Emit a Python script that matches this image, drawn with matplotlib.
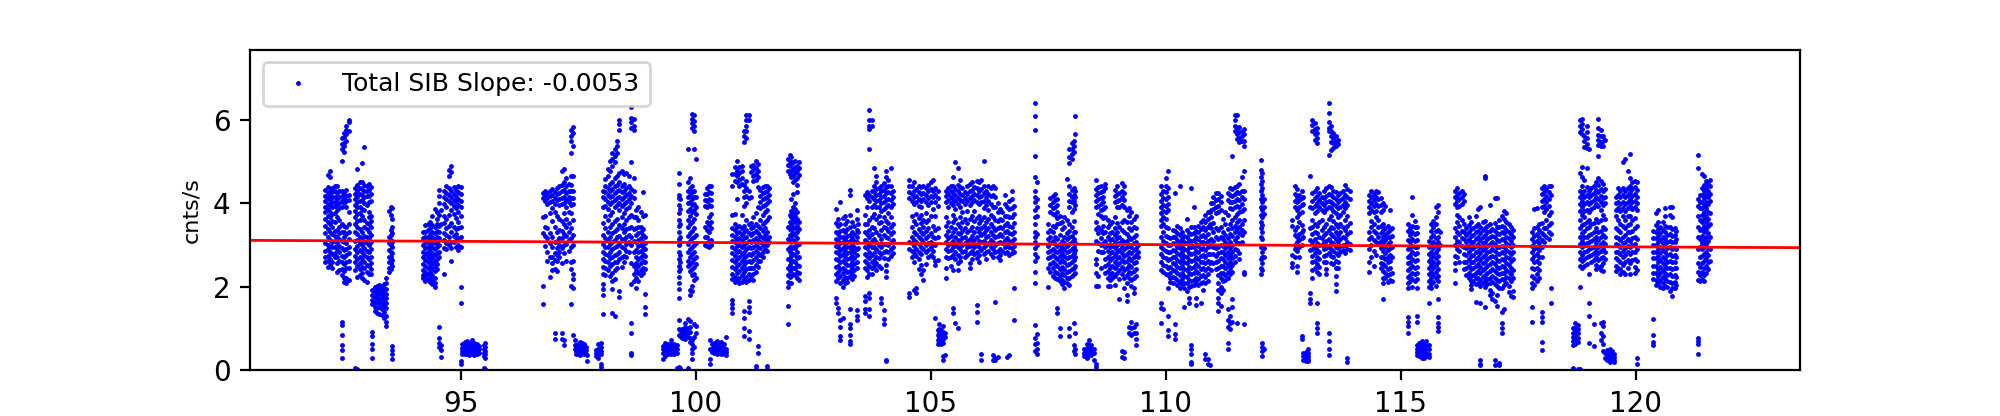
from matplotlib import pyplot as plt

# fitted line
line_x = [90.52, 123.5]
line_y = [3.11, 2.935]

# points, one list of y values per x column
a_x = [92.12, 92.17, 92.22, 92.27, 92.32, 92.37, 92.42, 92.47, 92.52, 92.57, 92.62]
a_y = [
    [4.32, 4.18, 4.05, 3.92, 3.78, 3.62, 3.45, 3.28, 3.05, 2.85, 2.72, 2.58],
    [4.68, 4.38, 4.24, 4.12, 3.98, 3.86, 3.7, 3.55, 3.38, 3.2, 3.0, 2.9, 2.74, 2.62, 2.48],
    [4.78, 4.62, 4.3, 4.2, 4.08, 3.95, 3.8, 3.66, 3.5, 3.3, 3.12, 2.98, 2.82, 2.66, 2.52],
    [4.36, 4.26, 4.14, 4.02, 3.9, 3.74, 3.58, 3.42, 3.26, 3.08, 2.94, 2.78, 2.6, 2.44],
    [4.42, 4.3, 4.16, 4.04, 3.94, 3.76, 3.56, 3.34, 3.22, 3.1, 2.96, 2.8, 2.7],
    [4.4, 4.24, 4.1, 3.98, 3.84, 3.68, 3.36, 3.2, 3.04, 2.9, 2.72, 2.56, 2.36],
    [4.28, 4.14, 4.0, 3.88, 3.6, 3.44, 3.28, 3.14, 2.98, 2.84, 2.62, 2.4],
    [5.55, 5.42, 5.3, 5.0, 4.3, 4.18, 4.06, 3.92, 3.5, 3.3, 3.1, 2.92, 2.74, 2.58, 2.42, 2.28, 1.15, 1.08, 0.85, 0.6, 0.48, 0.3],
    [5.68, 5.58, 5.45, 5.36, 5.22, 4.25, 4.12, 4.0, 3.46, 3.32, 3.2, 3.06, 2.88, 2.72, 2.55, 2.38, 2.22, 2.12],
    [5.84, 5.76, 5.65, 5.5, 4.32, 4.18, 4.06, 3.9, 3.42, 3.26, 3.04, 2.9, 2.76, 2.6, 2.44, 2.2, 2.08],
    [6.0, 5.94, 5.72, 4.2, 4.08, 3.8, 3.5, 3.3, 3.14, 2.96, 2.8, 2.62, 2.45, 2.15],
]
b_x = [92.75, 92.8, 92.85, 92.9, 92.95, 93.0, 93.05, 93.1]
b_y = [
    [4.36, 4.22, 4.1, 3.96, 3.82, 3.68, 3.5, 3.3, 3.1, 2.9, 2.74, 2.58, 2.4, 0.05],
    [4.82, 4.44, 4.3, 4.16, 4.02, 3.9, 3.74, 3.58, 3.44, 3.26, 3.12, 2.98, 2.82, 2.66, 2.5, 2.24, 0.04],
    [4.5, 4.36, 4.22, 4.06, 3.92, 3.76, 3.6, 3.38, 3.18, 3.04, 2.88, 2.72, 2.56, 2.42, 2.28],
    [4.96, 4.5, 4.34, 4.2, 4.08, 3.86, 3.7, 3.3, 3.14, 3.0, 2.82, 2.66, 2.48, 2.32, 2.2],
    [5.35, 4.44, 4.28, 4.14, 4.0, 3.84, 3.6, 3.42, 3.22, 3.08, 2.92, 2.76, 2.6, 2.44, 2.16],
    [4.42, 4.3, 4.18, 3.96, 3.52, 3.38, 3.2, 3.04, 2.86, 2.7, 2.52, 2.36, 2.12],
    [4.46, 4.32, 4.18, 4.04, 3.8, 3.66, 3.5, 3.3, 3.16, 3.0, 2.84, 2.66, 2.5, 2.3],
    [4.38, 4.22, 4.06, 3.7, 3.58, 3.42, 3.24, 3.08, 2.9, 2.72, 2.56, 2.42, 2.3],
]
c_x = [93.12, 93.17, 93.22, 93.27, 93.32, 93.37, 93.42, 93.47, 93.52, 93.55]
c_y = [
    [1.92, 1.8, 1.68, 1.58, 0.92, 0.82, 0.62, 0.52, 0.3],
    [2.0, 1.88, 1.76, 1.64, 1.52, 1.42],
    [2.02, 1.92, 1.82, 1.72, 1.62, 1.5, 1.38],
    [2.04, 1.94, 1.84, 1.74, 1.64, 1.52, 1.34],
    [2.02, 1.9, 1.8, 1.7, 1.58, 1.46, 1.32],
    [2.06, 1.96, 1.86, 1.76, 1.66, 1.54, 1.4, 1.26],
    [2.2, 2.08, 1.94, 1.82, 1.72, 1.6, 1.48, 1.3, 1.16, 1.06],
    [3.82, 3.2, 3.04, 2.88, 2.72, 2.58, 2.44, 2.36],
    [3.92, 3.72, 3.36, 3.24, 3.12, 3.0, 2.84, 2.7, 2.56, 2.42],
    [3.88, 3.62, 3.42, 3.28, 3.08, 2.94, 2.8, 2.64, 2.5, 0.58, 0.48, 0.38, 0.27],
]
d_x = [94.2, 94.25, 94.3, 94.35, 94.4, 94.45, 94.5, 94.55, 94.58]
d_y = [
    [3.3, 3.16, 3.0, 2.84, 2.7, 2.54, 2.4, 2.28, 2.2],
    [3.48, 3.32, 3.18, 3.04, 2.92, 2.78, 2.64, 2.5, 2.36, 2.26, 2.14],
    [3.5, 3.36, 3.2, 3.1, 2.96, 2.84, 2.7, 2.58, 2.44, 2.3, 2.18],
    [3.56, 3.4, 3.26, 3.14, 3.02, 2.9, 2.76, 2.62, 2.5, 2.36, 2.22, 2.12],
    [3.7, 3.48, 3.32, 3.18, 3.06, 2.94, 2.8, 2.68, 2.56, 2.42, 2.28, 2.16, 2.06],
    [3.86, 3.44, 3.28, 3.14, 3.04, 2.9, 2.76, 2.62, 2.5, 2.38, 2.22, 2.08, 2.0],
    [3.78, 3.62, 3.5, 3.34, 3.2, 3.08, 2.94, 2.8, 2.66, 2.54, 2.42],
    [4.32, 4.18, 4.0, 3.72, 3.46, 3.3, 3.16, 3.0, 2.84, 2.7, 1.04, 0.78, 0.66, 0.56],
    [3.84, 3.5, 0.6, 0.48, 0.32],
]
e_x = [94.65, 94.7, 94.75, 94.8, 94.85, 94.9, 94.95, 95.0]
e_y = [
    [4.3, 4.16, 3.98, 3.7, 3.52, 3.28, 3.12, 2.92, 2.3],
    [4.4, 4.24, 4.1, 3.9, 3.62, 3.4, 3.24, 3.04, 2.9],
    [4.8, 4.66, 4.36, 4.2, 4.06, 3.72, 3.46, 3.18, 3.0],
    [4.88, 4.74, 4.28, 4.14, 4.0, 3.84, 3.52, 3.3, 3.08, 2.92, 2.62],
    [4.38, 4.22, 4.08, 3.94, 3.74, 3.44, 3.22, 3.06],
    [4.32, 4.18, 4.04, 3.88, 3.64, 3.38, 3.26, 3.12, 2.96],
    [4.42, 4.26, 4.1, 3.96, 3.78, 3.56, 3.4, 3.16, 3.0, 2.88],
    [4.38, 4.22, 4.06, 3.92, 3.7, 3.42, 3.2, 2.94, 2.0, 1.62, 0.22, 0.14],
]
e_low_x = [95.04, 95.09, 95.14, 95.19, 95.24, 95.29, 95.34, 95.39, 95.5, 95.53]
e_low_y = [
    [0.62, 0.54, 0.46, 0.4],
    [0.68, 0.6, 0.52, 0.44, 0.38],
    [0.7, 0.62, 0.54, 0.46, 0.38],
    [0.66, 0.58, 0.5, 0.42, 0.36],
    [0.72, 0.64, 0.56, 0.48, 0.4],
    [0.66, 0.58, 0.5, 0.42, 0.36],
    [0.62, 0.54, 0.46, 0.38],
    [0.58, 0.5, 0.42],
    [0.6, 0.5, 0.42, 0.34, 0.06],
    [0.65, 0.55, 0.46, 0.38, 0.3, 0.04],
]
f_x = [96.75, 96.8, 96.85, 96.9, 96.95, 97.0, 97.05, 97.1, 97.15, 97.2, 97.25, 97.3, 97.35, 97.4, 97.44]
f_y = [
    [4.24, 4.12, 3.66, 3.28, 2.02, 1.58],
    [4.3, 4.18, 4.06, 3.7, 3.44, 3.22, 2.98],
    [4.24, 4.12, 3.98, 3.4, 3.16, 2.84, 2.62],
    [4.3, 4.18, 4.02, 3.76, 3.28, 3.04, 2.7, 2.24],
    [4.34, 4.2, 4.06, 3.88, 3.58, 3.18, 2.96, 2.72, 2.56, 2.4],
    [4.26, 4.12, 3.98, 3.8, 3.44, 3.06, 2.8, 2.64, 2.42, 0.88, 0.75],
    [4.36, 4.22, 4.08, 3.7, 3.3, 3.1, 2.92, 2.76, 2.62, 2.38],
    [4.4, 4.24, 4.1, 3.96, 3.62, 3.36, 3.16, 3.0, 2.84, 2.7],
    [4.76, 4.44, 4.28, 4.12, 3.98, 3.58, 3.34, 3.16, 2.92, 2.56, 0.88, 0.75],
    [4.82, 4.5, 4.32, 4.14, 4.0, 3.76, 3.5, 3.26, 3.0, 2.8, 0.72, 0.6],
    [4.6, 4.4, 4.24, 4.08, 3.9, 3.62, 3.42, 3.22, 3.02, 2.62],
    [4.46, 4.3, 4.16, 4.02, 3.8, 3.52, 3.3, 3.12, 2.86],
    [5.76, 5.62, 5.5, 5.2, 4.66, 4.44, 4.28, 4.12, 3.96, 3.76, 3.4, 3.16, 2.96, 2.6, 2.42, 2.02, 1.58],
    [5.82, 5.68, 5.36, 4.64, 4.28, 4.12, 3.98, 3.6, 3.24, 3.0, 2.62, 2.3, 2.18, 1.98, 0.85],
    [0.72, 0.6, 0.5],
]
f_low_x = [97.46, 97.5, 97.54, 97.58, 97.62, 97.66, 97.7, 97.88, 97.93, 97.98]
f_low_y = [
    [0.55, 0.46, 0.38],
    [0.62, 0.54, 0.46, 0.38],
    [0.68, 0.6, 0.52, 0.44, 0.36],
    [0.66, 0.58, 0.5, 0.42],
    [0.62, 0.54, 0.46, 0.38],
    [0.56, 0.48, 0.4],
    [0.36, 0.22],
    [0.48, 0.42, 0.34],
    [0.62, 0.52, 0.44, 0.36, 0.3],
    [0.66, 0.56, 0.46, 0.38, 0.14, 0.08],
]
g_x = [98.03, 98.08, 98.13, 98.18, 98.23, 98.28, 98.33, 98.38, 98.43, 98.48, 98.53, 98.58, 98.63, 98.68, 98.73, 98.78, 98.83, 98.88, 98.92]
g_y = [
    [4.3, 4.14, 3.9, 3.52, 3.24, 3.02, 2.84, 2.66, 2.48, 2.3, 2.06, 1.94, 1.8, 1.34],
    [4.58, 4.42, 4.26, 4.1, 3.94, 3.7, 3.4, 3.16, 2.96, 2.78, 2.62, 2.44, 2.28],
    [4.82, 4.64, 4.36, 4.2, 4.04, 3.86, 3.6, 3.3, 3.12, 2.94, 2.76, 2.6, 2.4],
    [5.0, 4.76, 4.46, 4.3, 4.14, 3.98, 3.72, 3.44, 3.2, 3.02, 2.84, 2.68, 2.5, 2.26],
    [5.2, 5.06, 4.9, 4.5, 4.34, 4.18, 4.02, 3.8, 3.5, 3.28, 3.08, 2.9, 2.72, 2.54, 2.34, 2.14, 1.94, 1.36],
    [5.3, 5.14, 4.98, 4.6, 4.4, 4.24, 4.08, 3.92, 3.58, 3.34, 3.12, 2.94, 2.76, 2.58, 2.4, 2.18, 1.3],
    [5.48, 5.36, 5.2, 4.66, 4.44, 4.28, 4.12, 3.96, 3.62, 3.38, 3.18, 2.98, 2.78, 2.6, 2.44],
    [6.0, 5.9, 5.76, 4.72, 4.5, 4.32, 4.16, 4.0, 3.84, 3.48, 3.22, 3.02, 2.84, 2.66, 1.9, 1.76],
    [4.76, 4.42, 4.26, 4.1, 3.94, 3.66, 3.4, 3.14, 2.96, 2.7, 2.48],
    [4.7, 4.46, 4.3, 4.14, 3.98, 3.76, 3.5, 3.3, 3.12, 2.92, 2.74, 2.58],
    [4.72, 4.36, 4.2, 4.04, 3.86, 3.6, 3.38, 3.2, 3.02, 2.86, 2.7],
    [4.66, 4.42, 4.24, 4.1, 3.92, 3.66, 3.4, 3.24, 3.06, 2.84],
    [6.3, 6.05, 5.95, 5.8, 4.98, 4.34, 4.18, 4.0, 3.72, 3.44, 3.2, 3.0, 2.56, 2.06, 1.14, 0.9, 0.42, 0.36],
    [6.02, 5.86, 5.76, 4.6, 4.3, 4.12, 3.66, 3.38, 3.1, 2.82, 2.5, 2.3, 2.14],
    [3.84, 3.66, 3.4, 3.24, 3.06, 2.88, 2.72, 2.56, 2.4, 2.2, 1.96],
    [3.9, 3.6, 3.42, 3.28, 3.12, 2.98, 2.82, 2.66, 2.5, 2.34, 2.14],
    [3.8, 3.44, 3.3, 3.16, 3.0, 2.86, 2.7, 2.56, 2.4, 2.28],
    [4.26, 3.7, 3.38, 3.24, 3.08, 2.94, 2.78, 2.62, 2.46, 2.32],
    [3.72, 3.2, 3.04, 2.9, 2.74, 2.58, 2.42, 1.82, 1.52, 1.35],
]
h_low_x = [99.3, 99.36, 99.42, 99.48, 99.54, 99.6, 99.64, 99.66, 99.72, 99.78, 99.84, 99.88, 99.92, 99.97, 100.0]
h_low_y = [
    [0.58, 0.5, 0.42, 0.28],
    [0.66, 0.58, 0.5, 0.42, 0.34],
    [0.62, 0.54, 0.46, 0.38],
    [0.72, 0.64, 0.56, 0.48, 0.4],
    [0.62, 0.54, 0.46, 0.38],
    [0.6, 0.5, 0.42, 0.06],
    [4.72, 4.45, 4.2, 4.12, 3.95, 3.76, 3.6, 3.46, 3.3, 3.14, 3.0, 2.84, 2.66, 2.5, 2.38, 2.24, 2.08, 1.94, 1.72, 1.2, 0.98, 0.85, 0.08],
    [4.1, 3.86, 3.5, 3.2, 3.06, 2.76, 2.58, 2.42, 0.96, 0.82, 0.05],
    [0.98, 0.88, 0.78],
    [1.14, 1.04, 0.94, 0.84, 0.74],
    [1.22, 1.0, 0.9, 0.8, 0.06],
    [1.18, 1.04, 0.92, 0.78, 0.68],
    [0.72, 0.62, 0.5, 0.42, 0.28],
    [5.3, 1.1, 0.8, 0.55],
    [1.06, 0.9],
]
i_x = [99.84, 99.88, 99.92, 99.96, 100.0, 100.2, 100.24, 100.28, 100.32]
i_y = [
    [5.3, 4.5, 4.3, 4.16, 4.0, 3.82, 3.6, 3.44, 3.22, 3.02, 2.84, 2.62, 2.5],
    [4.6, 4.36, 4.2, 4.04, 3.86, 3.7, 3.5, 3.28, 3.1, 2.9, 2.7, 2.54, 2.38, 1.92, 1.8],
    [6.14, 6.02, 5.92, 5.8, 4.42, 4.26, 4.1, 3.96, 3.78, 3.54, 3.34, 3.16, 2.96, 2.78, 2.6, 2.42, 2.28, 2.02, 1.9],
    [6.1, 5.96, 5.84, 5.72, 4.3, 4.14, 3.98, 3.84, 3.62, 3.4, 3.2, 3.0, 2.82, 2.66, 2.48, 2.3, 2.16],
    [5.07, 4.14, 3.92, 3.74, 3.24, 3.04, 2.72, 2.54, 2.2],
    [4.22, 4.08, 3.94, 3.42, 3.2, 3.0],
    [4.36, 4.22, 4.06, 3.92, 3.56, 3.36, 3.18, 2.98],
    [4.4, 4.26, 4.1, 3.96, 3.66, 3.48, 3.3, 3.1, 2.96],
    [4.42, 4.24, 4.08, 3.94, 3.74, 3.54, 3.4, 3.12, 3.0],
]
i_low_x = [100.3, 100.35, 100.4, 100.45, 100.5, 100.55, 100.6, 100.65]
i_low_y = [
    [0.72, 0.5, 0.26, 0.16],
    [0.62, 0.52, 0.44],
    [0.66, 0.58, 0.5, 0.42],
    [0.7, 0.62, 0.54, 0.46, 0.38],
    [0.66, 0.58, 0.5, 0.42],
    [0.68, 0.6, 0.52, 0.44, 0.38],
    [0.62, 0.54, 0.46, 0.38],
    [0.8, 0.52, 0.44, 0.36],
]
j_x = [100.78, 100.83, 100.88, 100.93, 100.98, 101.03, 101.08, 101.13, 101.18, 101.23, 101.28, 101.33, 101.38, 101.43, 101.48, 101.53, 101.57]
j_y = [
    [4.7, 4.4, 3.72, 3.4, 3.24, 3.1, 2.96, 2.8, 2.64, 2.48, 2.3, 2.18, 1.68, 1.58, 1.48, 1.36],
    [4.86, 4.7, 4.54, 3.74, 3.5, 3.36, 3.2, 3.06, 2.9, 2.74, 2.58, 2.42, 2.24, 2.12],
    [5.0, 4.78, 4.64, 4.5, 4.1, 3.42, 3.28, 3.12, 2.98, 2.82, 2.66, 2.5, 2.34, 2.16],
    [4.86, 4.72, 4.56, 4.42, 3.46, 3.32, 3.16, 3.0, 2.86, 2.7, 2.54, 2.38, 2.2, 2.08],
    [4.9, 4.76, 4.6, 4.46, 3.72, 3.4, 3.24, 3.1, 2.94, 2.78, 2.62, 2.46, 2.28, 2.12],
    [5.72, 5.6, 5.46, 4.44, 4.3, 4.14, 3.94, 3.46, 3.3, 3.16, 3.0, 2.84, 2.68, 2.52, 2.36, 2.18, 1.42, 1.26, 1.02, 0.82],
    [6.12, 6.0, 5.86, 5.72, 5.56, 4.52, 4.36, 4.18, 4.0, 3.6, 3.36, 3.2, 3.04, 2.9, 2.74, 2.58, 2.42, 2.24, 2.12],
    [6.1, 6.0, 4.3, 4.12, 3.5, 3.28, 3.1, 2.94, 2.78, 2.62, 2.46, 2.3, 2.16, 1.66, 1.52, 1.4, 0.95, 0.74],
    [4.88, 4.74, 4.16, 3.52, 3.4, 3.24, 3.08, 2.92, 2.76, 2.6, 2.44, 2.26],
    [4.92, 4.8, 4.66, 4.54, 3.66, 3.44, 3.28, 3.12, 2.96, 2.8, 2.64, 2.46, 2.3, 2.16],
    [5.0, 4.84, 4.7, 4.56, 3.76, 3.5, 3.34, 3.16, 3.0, 2.86, 2.7, 2.52, 2.36, 0.1, 0.04],
    [4.94, 4.78, 4.62, 4.38, 3.9, 3.46, 3.28, 3.12, 2.96, 2.8, 2.62, 2.48, 0.58, 0.42],
    [4.32, 4.18, 4.02, 3.88, 3.6, 3.4, 3.22, 3.08, 2.92, 2.76, 2.62],
    [4.38, 4.24, 4.1, 3.94, 3.72, 3.5, 3.34, 3.16, 3.0, 2.84, 2.7],
    [4.4, 4.26, 4.12, 3.96, 3.78, 3.56, 3.4, 3.24, 3.08, 2.9],
    [4.42, 4.28, 4.14, 4.0, 3.84, 3.6, 3.3, 3.14, 3.0, 2.86, 0.1, 0.04],
    [4.36, 4.2, 4.06, 3.66, 3.2, 3.06],
]
k_x = [101.96, 102.0, 102.04, 102.08, 102.12, 102.16, 102.2]
k_y = [
    [5.06, 4.92, 4.78, 3.42, 3.14, 2.9, 2.66, 2.44, 2.28, 2.12, 2.0, 1.55, 1.1],
    [5.16, 5.02, 4.88, 4.7, 3.72, 3.54, 3.38, 3.24, 3.1, 2.96, 2.82, 2.66, 2.52, 2.38, 2.24, 2.08],
    [5.1, 4.94, 4.78, 4.62, 4.1, 3.82, 3.66, 3.5, 3.36, 3.22, 3.06, 2.9, 2.74, 2.58, 2.42, 2.26, 2.1],
    [4.98, 4.82, 4.66, 4.5, 4.22, 3.92, 3.76, 3.6, 3.44, 3.28, 3.12, 2.96, 2.78, 2.62, 2.46, 2.3],
    [5.02, 4.86, 4.72, 4.56, 4.0, 3.86, 3.7, 3.54, 3.4, 3.24, 3.08, 2.92, 2.76, 2.6, 2.44, 2.28],
    [4.9, 4.76, 4.6, 4.44, 4.26, 3.8, 3.62, 3.46, 3.3, 3.16, 3.0, 2.84, 2.68, 2.52, 2.36, 2.2],
    [4.98, 4.84, 4.68, 3.56, 3.38, 3.02, 2.72, 2.5, 2.32, 2.16],
]
m_x = [102.98, 103.03, 103.08, 103.13, 103.18, 103.23, 103.28, 103.33, 103.38, 103.43, 103.46]
m_y = [
    [3.86, 3.52, 3.3, 3.14, 2.98, 2.82, 2.66, 2.48, 2.3, 2.14, 1.72, 1.6],
    [3.62, 3.46, 3.26, 3.1, 2.96, 2.8, 2.64, 2.5, 2.36, 2.2, 1.5, 1.38],
    [4.02, 3.5, 3.34, 3.18, 3.04, 2.88, 2.74, 2.58, 2.42, 2.26, 2.1, 1.2, 1.04, 0.82, 0.72],
    [3.64, 3.36, 3.2, 3.06, 2.92, 2.78, 2.62, 2.46, 2.32, 2.16, 2.0, 1.26],
    [3.7, 3.5, 3.3, 3.14, 3.0, 2.86, 2.72, 2.56, 2.4, 2.24, 2.08],
    [3.58, 3.38, 3.22, 3.08, 2.94, 2.8, 2.66, 2.52, 2.36, 2.22, 2.12],
    [4.32, 4.2, 3.72, 3.42, 3.24, 3.1, 2.96, 2.82, 2.68, 2.52, 2.38, 2.26, 1.46, 1.1, 1.0, 0.85, 0.7, 0.62],
    [3.56, 3.3, 3.16, 3.02, 2.88, 2.74, 2.6, 2.44, 2.3, 2.18],
    [3.46, 3.26, 3.1, 2.96, 2.82, 2.68, 2.54, 2.4, 2.26],
    [3.84, 3.62, 3.36, 3.2, 3.06, 2.9, 2.76, 2.6, 2.44, 1.44, 1.3, 1.2],
    [3.5, 3.3, 2.92],
]
n_x = [103.6, 103.65, 103.7, 103.75, 103.8, 103.85, 103.9, 103.95, 104.0, 104.05, 104.1, 104.15, 104.2]
n_y = [
    [4.2, 3.72, 3.5, 3.3, 3.12, 2.96, 2.78, 2.62, 2.44, 1.78, 1.66, 1.46, 1.36],
    [4.26, 4.12, 3.9, 3.5, 3.26, 3.08, 2.92, 2.74, 2.56, 2.4, 2.24],
    [6.24, 5.98, 5.84, 5.78, 5.3, 4.2, 4.06, 3.6, 3.36, 3.18, 3.0, 2.84, 2.68, 2.5, 2.3, 1.86, 1.72, 1.46, 1.3],
    [6.0, 5.86, 4.3, 4.14, 3.9, 3.66, 3.44, 3.26, 3.1, 2.94, 2.76, 2.58, 2.44, 2.3],
    [4.84, 4.4, 4.26, 4.1, 3.96, 3.74, 3.4, 3.14, 2.96, 2.8, 2.64, 2.5],
    [4.66, 4.5, 4.34, 4.2, 4.06, 3.9, 3.62, 3.3, 3.08, 2.9, 2.72, 2.56, 2.4],
    [4.36, 4.22, 4.08, 3.92, 3.7, 3.52, 3.24, 3.0, 2.84, 2.68, 2.5],
    [4.42, 4.28, 4.14, 4.0, 3.82, 3.56, 3.36, 3.14, 2.94, 2.78, 2.44, 1.74, 1.62],
    [4.48, 4.32, 4.18, 4.04, 3.86, 3.68, 3.44, 3.24, 3.02, 2.84, 2.68, 1.44, 1.22, 1.1],
    [4.76, 4.62, 4.38, 4.24, 4.08, 3.92, 3.58, 3.4, 3.2, 3.02, 2.86, 2.52, 2.38, 2.24, 0.24, 0.22],
    [4.56, 4.4, 4.26, 4.1, 3.96, 3.76, 3.52, 3.34, 3.16, 3.0, 2.82, 2.66],
    [4.84, 4.4, 4.24, 4.08, 3.92, 3.68, 3.44, 3.26, 3.08, 2.9, 2.74],
    [4.3, 4.14, 3.98, 3.5, 3.3, 3.12, 2.94, 2.8],
]
o_x = [104.55, 104.6, 104.65, 104.7, 104.75, 104.8, 104.85, 104.9, 104.95, 105.0, 105.05, 105.1, 105.15]
o_y = [
    [4.56, 4.4, 4.26, 4.12, 3.06, 2.9, 1.85, 1.75],
    [4.4, 4.22, 4.06, 3.7, 3.42, 3.2, 3.04, 2.86, 2.7],
    [4.5, 4.3, 4.14, 3.98, 3.58, 3.32, 3.12, 2.98, 2.8, 2.6, 1.92],
    [4.34, 4.18, 4.02, 3.74, 3.5, 3.26, 3.08, 2.9, 2.74, 1.98, 1.86],
    [4.42, 4.26, 4.1, 3.94, 3.64, 3.38, 3.18, 3.02, 2.84, 2.66, 2.42],
    [4.38, 4.22, 4.06, 3.9, 3.72, 3.52, 3.3, 3.14, 2.96, 2.78, 2.52, 2.3],
    [4.4, 4.24, 4.1, 3.6, 3.42, 3.26, 3.06, 2.9, 2.4, 2.16],
    [4.36, 4.2, 4.04, 3.76, 3.56, 3.34, 3.16, 3.0, 2.84, 2.54],
    [4.44, 4.28, 4.12, 3.96, 3.6, 3.4, 3.22, 3.04, 2.88, 2.7],
    [4.5, 4.34, 4.18, 4.02, 3.7, 3.28, 3.08, 2.94, 2.76],
    [4.56, 4.3, 4.14, 3.86, 3.46, 3.2, 3.02, 2.86, 2.7],
    [4.36, 4.2, 4.02, 3.7, 3.36, 3.16, 3.0, 2.62, 2.52, 1.26],
    [4.28, 4.12, 3.94, 3.4, 3.18, 2.64, 0.96, 0.84, 0.72, 0.62],
]
o_low_x = [105.18, 105.22, 105.26, 105.3]
o_low_y = [
    [1.1, 0.98, 0.88, 0.78, 0.68],
    [0.96, 0.88, 0.8, 0.72, 0.64],
    [1.06, 0.92, 0.84, 0.76, 0.66, 0.34, 0.24],
    [0.9, 0.8, 0.36],
]
p_x = [105.33, 105.38, 105.43, 105.48, 105.53, 105.58, 105.63, 105.68, 105.73, 105.78, 105.83, 105.88, 105.93, 105.98, 106.03, 106.08, 106.13, 106.18, 106.23, 106.28, 106.33, 106.38, 106.43, 106.48, 106.53, 106.58, 106.63, 106.68, 106.73, 106.78]
p_y = [
    [4.3, 4.18, 4.04, 3.66, 3.46, 3.24, 3.06, 2.9, 2.72, 2.44, 2.2],
    [4.36, 4.22, 4.08, 3.9, 3.56, 3.34, 3.16, 3.0, 2.86, 2.68],
    [4.42, 4.28, 4.14, 4.0, 3.44, 3.22, 3.04, 2.88, 2.7, 2.5],
    [4.62, 4.4, 4.24, 4.1, 3.96, 3.72, 3.54, 3.3, 3.1, 2.94, 2.76, 2.4, 1.48, 1.36],
    [4.98, 4.34, 4.2, 4.06, 3.86, 3.62, 3.38, 3.2, 3.02, 2.84, 2.66, 1.14],
    [4.84, 4.44, 4.28, 4.12, 3.98, 3.5, 3.28, 3.12, 2.94, 2.76, 2.56, 2.4, 1.0],
    [4.56, 4.38, 4.22, 4.08, 3.9, 3.66, 3.44, 3.26, 3.06, 2.9, 2.72, 2.62],
    [4.36, 4.2, 4.06, 3.78, 3.56, 3.34, 3.16, 3.0, 2.82],
    [4.26, 4.12, 3.98, 3.62, 3.4, 3.2, 3.04, 2.86, 2.7],
    [4.4, 4.22, 4.06, 3.82, 3.52, 3.3, 3.1, 2.94, 2.76],
    [4.46, 4.28, 4.12, 3.96, 3.62, 3.36, 3.14, 2.98, 2.8, 2.56, 2.44],
    [4.5, 4.32, 4.18, 4.02, 3.7, 3.44, 3.22, 3.04, 2.86, 2.66],
    [4.38, 4.22, 4.08, 3.82, 3.58, 3.3, 3.12, 2.96, 2.78],
    [4.54, 4.36, 4.2, 4.04, 3.64, 3.4, 3.2, 3.0, 2.84, 2.68, 1.56, 1.4, 1.16],
    [4.5, 4.3, 4.14, 3.98, 3.7, 3.52, 3.3, 3.1, 2.94, 2.76, 2.6],
    [4.56, 4.34, 4.18, 4.02, 3.6, 3.4, 3.24, 3.06, 2.88, 0.38, 0.24],
    [5.02, 4.4, 4.24, 4.06, 3.88, 3.66, 3.46, 3.28, 3.1, 2.94, 2.78],
    [4.3, 4.14, 3.96, 3.56, 3.36, 3.18, 3.0, 2.84, 2.66],
    [4.4, 4.22, 4.06, 3.84, 3.62, 3.4, 3.22, 3.04, 2.86],
    [4.36, 4.18, 3.98, 3.72, 3.5, 3.3, 3.12, 2.96, 2.78],
    [4.4, 4.2, 3.9, 3.68, 3.44, 3.24, 3.06, 2.9, 2.7, 0.36, 0.24],
    [4.36, 4.14, 3.92, 3.6, 3.36, 3.18, 3.0, 2.82, 1.64, 0.3, 0.24],
    [4.0, 3.8, 3.58, 3.4, 3.22, 3.04, 2.86, 2.72, 0.32],
    [3.86, 3.62, 3.44, 3.26, 3.08, 2.9, 2.76, 2.64],
    [3.8, 3.6, 3.4, 3.22, 3.04, 2.86],
    [4.2, 3.98, 3.7, 3.48, 3.3, 3.12, 2.96, 2.8],
    [3.9, 3.7, 3.52, 3.34, 3.16, 3.0, 2.84, 0.32],
    [4.06, 3.86, 3.66, 3.46, 3.28, 3.1, 2.94, 2.76, 0.36],
    [4.28, 4.1, 3.88, 3.66, 3.44, 3.26, 3.1, 2.92, 2.8],
    [3.94, 3.74, 3.52, 3.3, 3.14, 2.98, 2.84, 1.96, 1.2],
]
q_x = [107.22, 107.26, 107.5, 107.55, 107.6, 107.65, 107.7, 107.75, 107.8, 107.85, 107.9, 107.95, 108.0, 108.05, 108.08]
q_y = [
    [6.4, 6.08, 5.75, 5.13, 4.62, 4.3, 4.16, 4.02, 3.84, 3.66, 3.5, 3.32, 3.2, 3.08, 2.92, 2.78, 2.62, 2.36, 2.1, 1.08, 0.78, 0.62, 0.45],
    [4.5, 4.1, 3.92, 3.7, 3.26, 3.0, 2.7, 0.86, 0.66, 0.5, 0.38],
    [3.5, 3.3, 3.14, 2.98, 2.84, 2.68, 2.46, 2.0],
    [4.12, 3.96, 3.8, 3.36, 3.2, 3.04, 2.86, 2.7, 2.54, 2.36],
    [4.18, 4.04, 3.88, 3.74, 3.46, 3.3, 3.1, 2.9, 2.76, 2.6, 2.44, 2.26],
    [4.22, 4.08, 3.92, 3.72, 3.42, 3.2, 3.02, 2.86, 2.7, 2.54, 2.36, 2.2],
    [4.1, 3.96, 3.8, 3.64, 3.5, 3.14, 2.98, 2.82, 2.66, 2.5, 2.32, 2.18, 1.48, 1.36],
    [3.7, 3.52, 3.24, 3.02, 2.88, 2.74, 2.58, 2.42, 2.26, 2.14, 1.0, 0.82],
    [3.56, 3.38, 3.1, 2.96, 2.8, 2.64, 2.48, 2.32, 2.16, 2.06],
    [3.68, 3.44, 3.2, 3.04, 2.9, 2.74, 2.58, 2.42, 2.28, 2.12, 1.96],
    [4.58, 3.6, 3.28, 3.14, 2.98, 2.84, 2.68, 2.52, 2.36, 2.2, 2.08],
    [5.1, 4.96, 5.3, 4.4, 4.22, 4.06, 3.9, 3.5, 3.34, 3.18, 3.02, 2.86, 2.7, 2.54, 2.38, 2.22, 2.04, 1.0, 0.82],
    [5.44, 5.3, 5.18, 5.06, 4.32, 4.16, 4.02, 3.8, 3.42, 3.22, 3.08, 2.9, 2.74, 2.58, 2.42, 2.26],
    [5.36, 5.22, 5.5, 4.36, 4.2, 4.06, 3.86, 3.58, 3.3, 3.14, 2.96, 2.8, 2.64, 2.46, 2.3, 1.12, 0.6, 0.46],
    [6.08, 5.66, 4.3, 4.14, 3.96, 3.3, 3.04, 2.88, 2.7, 2.5, 2.34, 0.88, 0.5, 0.38],
]
r_x = [108.27, 108.32, 108.37, 108.42, 108.47, 108.52, 108.57, 108.62, 108.67, 108.72, 108.77, 108.82, 108.87, 108.92, 108.97, 109.02, 109.07, 109.12, 109.17, 109.22, 109.27, 109.32, 109.37, 109.42]
r_y = [
    [0.5, 0.42, 0.34],
    [0.62, 0.54, 0.46, 0.38, 0.3],
    [0.72, 0.6, 0.52, 0.44, 0.36],
    [0.6, 0.52, 0.44, 0.36],
    [0.5, 0.42, 0.24],
    [4.56, 4.34, 4.2, 4.06, 3.9, 3.56, 3.38, 3.1, 2.66, 2.54, 2.32, 2.02, 0.16, 0.08],
    [4.38, 4.24, 4.1, 3.94, 3.74, 3.44, 3.28, 3.04, 2.86, 2.26, 2.02],
    [4.4, 4.26, 4.12, 3.98, 3.84, 3.7, 3.36, 3.16, 3.0, 2.84, 2.46],
    [4.3, 4.16, 4.02, 3.86, 3.64, 3.46, 3.28, 3.04, 2.84],
    [4.46, 4.36, 3.92, 3.66, 3.3, 3.1, 2.94, 2.66, 2.5, 2.34],
    [3.6, 3.42, 3.18, 3.0, 2.86, 2.7, 2.54, 2.38, 2.22, 2.02],
    [3.5, 3.28, 3.12, 2.96, 2.8, 2.64, 2.46, 2.3, 2.16, 2.02],
    [3.54, 3.3, 3.14, 2.98, 2.82, 2.68, 2.5, 2.34, 2.2],
    [4.32, 4.18, 4.04, 3.66, 3.4, 3.24, 3.08, 2.92, 2.76, 2.6, 2.44, 2.26, 2.04],
    [4.4, 4.22, 4.06, 3.9, 3.52, 3.3, 3.16, 3.0, 2.84, 2.68, 2.52, 2.34],
    [4.24, 4.08, 3.92, 3.42, 3.2, 3.04, 2.88, 2.72, 2.56, 2.4, 2.18, 1.7],
    [4.48, 4.3, 4.14, 3.96, 3.56, 3.36, 3.12, 2.96, 2.8, 2.64, 2.48, 2.3, 0.46, 0.32],
    [4.4, 4.24, 4.08, 3.9, 3.6, 3.3, 3.06, 2.9, 2.74, 2.58, 2.4, 2.22, 1.98, 0.44, 0.3],
    [3.84, 3.54, 3.26, 3.1, 2.94, 2.78, 2.62, 2.44, 2.28, 2.1, 1.8, 1.66],
    [3.88, 3.7, 3.4, 3.18, 3.0, 2.84, 2.68, 2.52, 2.36, 2.2, 1.04, 0.9],
    [3.78, 3.56, 3.36, 3.14, 2.96, 2.8, 2.64, 2.48, 2.32, 2.16, 2.02, 1.16, 1.0, 0.84],
    [3.62, 3.44, 3.2, 3.04, 2.88, 2.72, 2.56, 2.38, 2.22, 1.96, 1.84, 1.04, 0.88],
    [3.7, 3.4, 3.24, 3.08, 2.92, 2.76, 2.6, 2.42, 2.26, 1.1, 0.9, 0.76, 0.6],
    [3.0, 2.84, 2.7],
]
s_x = [109.9, 109.95, 110.0, 110.05, 110.1, 110.15, 110.2, 110.25, 110.3, 110.35, 110.4, 110.45, 110.5, 110.55, 110.6, 110.65, 110.7, 110.75, 110.8, 110.85, 110.9, 110.94]
s_y = [
    [4.4, 4.22, 4.06, 3.92, 3.76, 3.6, 3.46, 3.18, 2.96, 2.78, 2.6, 2.4, 1.6, 1.48, 1.12],
    [4.3, 4.12, 3.96, 3.82, 3.66, 3.5, 3.3, 3.1, 2.9, 2.72, 2.52, 2.36, 1.46],
    [4.6, 4.42, 4.26, 4.1, 3.94, 3.78, 3.62, 3.42, 3.22, 3.04, 2.86, 2.68, 2.5, 2.3],
    [4.76, 4.36, 4.14, 3.98, 3.84, 3.4, 3.2, 3.0, 2.82, 2.64, 2.46, 2.28, 1.98, 1.3, 0.96, 0.82],
    [3.16, 3.0, 2.82, 2.66, 2.48, 2.32, 2.2, 2.12],
    [3.36, 3.2, 3.04, 2.88, 2.72, 2.56, 2.4, 2.24, 2.1],
    [4.24, 3.34, 3.18, 3.02, 2.86, 2.7, 2.54, 2.38, 2.2, 1.1, 0.86, 0.74],
    [3.46, 3.28, 3.12, 2.96, 2.8, 2.64, 2.48, 2.32, 2.16, 2.04],
    [4.42, 3.4, 3.24, 3.08, 2.92, 2.76, 2.6, 2.44, 2.28, 2.12, 1.98],
    [3.3, 3.14, 2.98, 2.82, 2.66, 2.5, 2.34, 2.18, 2.06],
    [3.22, 3.06, 2.9, 2.74, 2.58, 2.42, 2.26, 2.1, 1.96, 1.52],
    [3.62, 3.36, 3.2, 3.04, 2.88, 2.72, 2.56, 2.4, 2.24, 2.08, 1.9],
    [3.28, 3.12, 2.96, 2.8, 2.64, 2.48, 2.32, 2.16, 2.0, 1.72, 1.62],
    [4.36, 3.42, 3.26, 3.1, 2.94, 2.78, 2.62, 2.46, 2.3, 2.14, 2.02, 0.6, 0.5, 0.4, 0.2, 0.14],
    [3.9, 3.44, 3.28, 3.12, 2.96, 2.8, 2.64, 2.48, 2.32, 2.16, 2.04],
    [3.34, 3.18, 3.02, 2.86, 2.7, 2.54, 2.38, 2.22, 2.08, 1.72, 1.56],
    [3.46, 3.3, 3.14, 2.98, 2.82, 2.66, 2.5, 2.34, 2.18, 2.04],
    [3.56, 3.38, 3.22, 3.06, 2.9, 2.74, 2.58, 2.42, 2.26, 2.1, 1.6],
    [3.6, 3.44, 3.24, 3.08, 2.92, 2.76, 2.6, 2.44, 2.28, 2.12, 1.92],
    [3.72, 3.54, 3.36, 3.2, 3.04, 2.88, 2.72, 2.56, 2.4, 2.24, 2.08, 0.4, 0.26],
    [3.8, 3.62, 3.42, 3.26, 3.1, 2.94, 2.78, 2.62, 2.46, 2.3, 2.14, 0.26, 0.16],
    [3.78, 3.5, 3.0, 2.78, 2.56, 0.12],
]
u_x = [110.97, 111.02, 111.07, 111.12, 111.17, 111.22, 111.27, 111.32, 111.37, 111.42, 111.47, 111.52, 111.57, 111.62, 111.67]
u_y = [
    [4.0, 3.84, 3.66, 3.4, 3.14, 2.98, 2.6, 2.4],
    [4.16, 4.0, 3.86, 3.52, 3.3, 3.1, 2.94, 2.78, 2.56],
    [4.24, 4.08, 3.92, 3.76, 3.4, 3.2, 2.92, 2.74, 2.58, 2.42],
    [4.24, 4.1, 3.94, 3.8, 3.36, 3.14, 2.96, 2.8, 2.62, 2.46, 2.28, 2.1, 1.92, 1.72, 1.6, 1.42],
    [4.18, 4.02, 3.84, 3.42, 3.18, 3.0, 2.84, 2.68, 2.5, 2.34, 2.2, 2.0, 1.84, 1.54],
    [3.62, 3.32, 3.14, 2.98, 2.82, 2.66, 2.5, 2.34, 2.14, 1.92],
    [3.8, 3.5, 3.24, 3.08, 2.92, 2.76, 2.6, 2.44, 2.28, 2.16],
    [4.24, 4.08, 3.72, 3.38, 3.16, 3.0, 2.84, 2.68, 2.52, 2.36, 2.2, 1.46, 1.2, 1.04, 0.66, 0.52],
    [4.36, 4.2, 4.04, 3.88, 3.5, 3.26, 3.08, 2.92, 2.76, 2.6, 2.44, 2.3, 1.3, 1.12, 0.98],
    [5.12, 4.34, 4.18, 4.02, 3.86, 3.6, 3.4, 3.22, 3.0, 2.84, 2.68, 2.52, 2.36, 1.7, 1.52, 1.16],
    [6.12, 6.0, 5.86, 5.72, 4.38, 4.22, 4.06, 3.9, 3.66, 3.46, 3.3, 3.12, 2.9, 2.74, 2.6],
    [6.1, 5.8, 5.66, 5.54, 4.4, 4.26, 4.1, 3.94, 3.74, 3.54, 3.38, 3.2, 3.04, 2.88, 1.12],
    [5.82, 5.7, 5.56, 5.46, 4.46, 4.24, 4.08, 3.92, 3.78, 3.6, 3.42, 3.28, 3.04, 2.8, 2.66],
    [5.74, 5.62, 5.48, 4.62, 4.3, 4.14, 3.98, 3.82, 3.5, 3.36, 3.24, 3.06],
    [5.78, 5.66, 5.5, 5.38, 4.76, 4.3, 4.1, 3.86, 3.6, 3.3, 2.36, 2.3, 1.1],
]
v_x = [112.03, 112.06, 112.09, 112.7, 112.75, 112.8, 112.85, 112.9, 112.93, 112.98, 113.03]
v_y = [
    [5.03, 4.8, 4.62, 4.46, 4.3, 4.1, 3.92, 3.72, 3.56, 3.4, 3.2, 2.96, 2.66, 2.46, 2.3],
    [4.72, 4.54, 4.36, 4.2, 4.02, 3.84, 3.66, 3.48, 3.32, 3.14, 2.98, 2.84, 2.72, 2.56, 2.4, 0.65, 0.55, 0.45, 0.35],
    [4.1, 3.9, 3.74, 2.92, 2.7, 0.5],
    [3.6, 3.46, 2.76, 2.56, 2.48],
    [4.42, 4.22, 4.06, 3.9, 3.36, 3.24, 3.0, 2.9, 2.7],
    [4.34, 4.16, 4.02, 3.84, 3.66, 3.42, 3.2, 3.08, 2.86, 2.5, 2.36],
    [4.2, 4.08, 3.92, 3.74, 3.54, 3.26, 3.12, 2.96, 2.72],
    [4.28, 4.12, 3.96, 3.78, 3.48, 3.3, 3.16, 3.0, 0.82, 0.74],
    [4.14, 3.98, 3.36, 3.2, 0.42, 0.34, 0.24],
    [0.44, 0.36, 0.28, 0.22],
    [0.5, 0.42, 0.34, 0.26, 0.22],
]
w_x = [113.07, 113.12, 113.17, 113.22, 113.27, 113.32, 113.37, 113.42, 113.47, 113.52, 113.57, 113.62, 113.67, 113.72, 113.77, 113.82, 113.87, 113.92]
w_y = [
    [4.66, 3.92, 3.4, 3.12, 2.88, 1.85, 1.7, 1.6],
    [5.98, 5.88, 5.72, 4.24, 4.06, 3.88, 3.6, 3.42, 3.26, 3.06, 2.9, 2.74, 2.58, 2.4, 2.22],
    [5.92, 5.78, 5.66, 5.52, 4.3, 4.12, 3.94, 3.76, 3.5, 3.3, 3.14, 2.96, 2.8, 2.62, 2.44],
    [5.8, 5.68, 5.56, 5.44, 4.36, 4.18, 4.0, 3.82, 3.46, 3.28, 3.04, 2.88, 2.72, 2.54, 2.36, 1.62, 1.12, 1.0, 0.88],
    [4.24, 4.08, 3.92, 3.54, 3.2, 3.0, 2.82, 2.66, 2.48, 2.3],
    [4.16, 4.0, 3.84, 3.6, 3.36, 3.16, 3.0],
    [4.28, 4.12, 3.96, 3.8, 3.42, 3.24, 3.06, 2.9, 2.74, 2.58],
    [4.36, 4.18, 4.02, 3.86, 3.5, 3.28, 3.1, 2.92, 2.76, 2.6, 2.42, 2.3],
    [6.4, 6.16, 5.95, 5.8, 5.72, 5.16, 4.4, 4.22, 4.06, 3.9, 3.62, 3.36, 3.14, 2.96, 2.8, 0.88, 0.7, 0.52, 0.36],
    [5.86, 5.72, 5.6, 5.46, 5.28, 4.38, 4.2, 4.04, 3.88, 3.7, 3.44, 3.26, 3.08, 2.9, 2.74, 2.56],
    [5.68, 5.56, 5.44, 5.32, 4.3, 4.14, 3.98, 3.82, 3.58, 3.4, 3.22, 3.04, 2.86, 2.7, 2.54],
    [5.6, 5.48, 5.36, 4.26, 4.1, 3.94, 3.76, 3.5, 3.3, 3.14, 2.96, 2.8, 2.62, 2.44, 2.26, 2.06, 1.9],
    [5.52, 5.42, 4.2, 4.04, 3.88, 3.66, 3.42, 3.24, 3.08, 2.92, 2.76, 2.6, 2.46],
    [4.24, 4.08, 3.92, 3.72, 3.5, 3.3, 3.14, 2.98, 2.82],
    [4.28, 4.12, 3.96, 3.8, 3.42, 3.2, 3.0, 2.88],
    [4.44, 4.2, 4.04, 3.88, 3.6, 3.36, 3.16, 3.0, 2.8],
    [4.34, 4.14, 3.96, 3.7, 3.46, 3.26, 3.08, 2.9, 0.3, 0.2],
    [4.3, 4.1, 3.52, 3.3, 3.02, 2.88],
]
x_x = [114.33, 114.38, 114.43, 114.48, 114.53, 114.58, 114.63, 114.68, 114.73, 114.78, 114.82]
x_y = [
    [4.2, 4.06, 3.92, 3.76, 3.3, 3.14, 2.9, 2.6, 2.36],
    [4.28, 4.14, 4.0, 3.84, 3.58, 3.42, 3.2, 3.0, 2.72],
    [4.22, 4.08, 3.94, 3.78, 3.5, 3.34, 3.12, 2.86, 2.5],
    [4.3, 4.16, 3.98, 3.82, 3.66, 3.28, 3.06, 2.76],
    [4.26, 4.1, 3.94, 3.6, 3.42, 3.2, 3.04],
    [4.12, 3.96, 3.8, 3.46, 3.28, 3.1, 2.92, 2.7, 2.56, 2.44],
    [4.0, 3.84, 3.5, 3.36, 3.18, 3.04, 2.86, 2.7, 2.54, 2.38, 2.22, 2.08, 1.7],
    [3.94, 3.4, 3.26, 3.12, 2.96, 2.8, 2.66, 2.5, 2.34, 2.2],
    [3.46, 3.32, 3.18, 3.02, 2.88, 2.72, 2.58, 2.42, 2.28, 2.12],
    [3.84, 3.36, 3.2, 3.06, 2.92, 2.76, 2.62, 2.46, 2.3, 2.16],
    [3.4, 3.22, 2.96, 2.7, 2.34, 2.14],
]
y_x = [115.15, 115.2, 115.25, 115.3, 115.35, 115.4, 115.45, 115.5, 115.55, 115.6, 115.65, 115.7, 115.75, 115.8, 115.84]
y_y = [
    [3.5, 3.34, 3.12, 2.9, 2.72, 2.56, 2.4, 2.24, 2.08, 1.98, 1.28, 1.15, 1.05, 0.9],
    [3.4, 3.24, 3.08, 2.92, 2.76, 2.6, 2.44, 2.28, 2.14],
    [4.15, 3.72, 3.46, 3.3, 3.14, 2.98, 2.82, 2.66, 2.5, 2.34, 2.18, 2.0],
    [3.58, 3.42, 3.26, 3.1, 2.94, 2.78, 2.62, 2.46, 2.3, 2.14],
    [3.44, 3.28, 3.12, 2.96, 2.8, 2.64, 2.48, 2.32, 2.18, 1.96, 1.3, 1.15, 0.6, 0.52, 0.44, 0.36],
    [0.66, 0.58, 0.5, 0.42, 0.34],
    [0.7, 0.62, 0.54, 0.46, 0.38, 0.3],
    [0.62, 0.54, 0.46, 0.38, 0.3],
    [0.7, 0.6, 0.5, 0.42, 0.34],
    [3.1, 2.94, 2.78, 2.62, 2.46, 2.3, 2.14, 2.0, 1.62, 0.6, 0.5, 0.4, 0.32],
    [3.5, 3.34, 3.18, 3.0, 2.84, 2.68, 2.52, 2.36, 2.2, 2.06, 1.98],
    [3.58, 3.42, 3.24, 3.08, 2.92, 2.76, 2.6, 2.44, 2.28, 2.12],
    [3.9, 3.68, 3.5, 3.34, 3.16, 3.0, 2.84, 2.68, 2.52, 2.36, 2.2, 2.02],
    [3.96, 3.78, 3.36, 3.2, 3.06, 2.9, 2.74, 2.58, 2.42, 2.26, 2.14, 1.7, 1.28, 1.14, 1.04, 0.94],
    [3.3, 3.0],
]
z_x = [116.15, 116.2, 116.25, 116.3, 116.35, 116.4, 116.45, 116.5, 116.55, 116.6, 116.65, 116.7, 116.75, 116.8, 116.85, 116.9, 116.95, 117.0, 117.05, 117.1, 117.15, 117.2, 117.25, 117.3, 117.35, 117.4]
z_y = [
    [4.3, 4.14, 3.98, 3.4, 3.2, 3.0, 2.74, 2.56, 2.4, 2.08],
    [4.36, 4.2, 4.06, 3.9, 3.72, 3.54, 3.3, 3.1, 2.9, 2.72],
    [4.24, 4.1, 3.94, 3.66, 3.46, 3.26, 3.06, 2.86, 2.58],
    [4.28, 4.14, 3.98, 3.6, 3.34, 3.16, 2.98],
    [4.22, 4.06, 3.5, 3.3, 3.14, 2.96, 2.78, 2.6, 2.42],
    [3.4, 3.24, 3.08, 2.92, 2.76, 2.6, 2.44, 2.28],
    [3.66, 3.48, 3.3, 3.14, 2.98, 2.82, 2.66, 2.5, 2.34, 2.2],
    [3.56, 3.38, 3.22, 3.06, 2.9, 2.74, 2.58, 2.42, 2.26, 2.14, 2.04, 1.94],
    [3.4, 3.24, 3.08, 2.92, 2.76, 2.6, 2.44, 2.28, 2.14],
    [3.7, 3.46, 3.3, 3.14, 2.98, 2.82, 2.66, 2.5, 2.34, 2.2, 2.06, 1.64],
    [3.86, 3.5, 3.34, 3.18, 3.02, 2.86, 2.7, 2.54, 2.38, 2.22, 2.08],
    [3.9, 3.44, 3.28, 3.12, 2.96, 2.8, 2.64, 2.48, 2.32, 2.16, 2.02, 1.62, 0.24, 0.16, 0.12],
    [3.54, 3.36, 3.2, 3.04, 2.88, 2.72, 2.56, 2.4, 2.24, 2.1],
    [4.66, 4.6, 3.58, 3.4, 3.24, 3.08, 2.92, 2.76, 2.6, 2.44, 2.28, 2.14, 2.0, 1.52],
    [3.46, 3.3, 3.14, 2.98, 2.82, 2.66, 2.5, 2.34, 2.18, 2.06],
    [3.96, 3.5, 3.34, 3.18, 3.02, 2.86, 2.7, 2.54, 2.38, 2.22, 2.08, 1.92, 1.8],
    [3.38, 3.22, 3.06, 2.9, 2.74, 2.58, 2.42, 2.26, 2.12, 1.86, 1.7],
    [4.12, 3.52, 3.34, 3.18, 3.02, 2.86, 2.7, 2.54, 2.38, 2.22, 2.06, 1.66, 0.24, 0.12],
    [4.12, 3.44, 3.28, 3.12, 2.96, 2.8, 2.64, 2.48, 2.32, 2.16, 2.02, 1.8, 1.54],
    [3.6, 3.42, 3.26, 3.1, 2.94, 2.78, 2.62, 2.46, 2.3, 2.14, 1.98, 0.18, 0.12],
    [3.7, 3.46, 3.3, 3.14, 2.98, 2.82, 2.66, 2.5, 2.34, 2.18, 1.96, 1.4, 1.14, 1.02, 0.9],
    [3.82, 3.62, 3.44, 3.28, 3.12, 2.96, 2.8, 2.64, 2.48, 2.32, 2.16, 2.04, 1.46],
    [3.76, 3.54, 3.36, 3.2, 3.04, 2.88, 2.72, 2.56, 2.4, 2.24, 2.1],
    [3.5, 3.32, 3.16, 3.0, 2.84, 2.68, 2.52, 2.36, 2.2, 2.02, 1.88],
    [3.44, 3.26, 3.1, 2.94, 2.78, 2.62, 2.46, 2.3, 2.14, 1.78],
    [3.36, 3.18, 3.0, 2.82, 2.66, 2.4, 2.22, 1.9, 1.76],
]
aa_x = [117.8, 117.85, 117.9, 117.95, 118.0, 118.05, 118.1, 118.15, 118.2]
aa_y = [
    [3.3, 3.14, 2.98, 2.82, 2.66, 2.46, 2.26, 2.1, 1.98, 1.52, 1.15],
    [3.86, 3.4, 3.22, 3.06, 2.9, 2.74, 2.58, 2.42, 2.22, 2.04],
    [3.88, 3.42, 3.26, 3.1, 2.94, 2.78, 2.62, 2.46, 2.3, 2.14],
    [3.5, 3.36, 3.2, 3.04, 2.88, 2.72, 2.56, 2.4, 2.2],
    [4.36, 4.22, 4.06, 3.9, 3.52, 3.28, 3.12, 2.96, 2.7, 1.4, 1.28, 1.16, 0.68, 0.48],
    [4.4, 4.26, 4.1, 3.94, 3.8, 3.4, 3.24, 3.08],
    [4.34, 4.18, 4.02, 3.86, 3.6, 3.4, 3.2],
    [4.42, 4.26, 4.1, 3.94, 3.72, 3.48, 3.3, 3.14],
    [4.4, 4.2, 3.8, 3.52, 3.26, 1.98, 1.62],
]
bb_x = [118.67, 118.72, 118.77, 118.81, 118.86, 118.91, 118.96, 119.01, 119.06, 119.11, 119.16, 119.21, 119.26, 119.31, 119.35]
bb_y = [
    [1.0, 0.9, 0.8, 0.7, 0.6, 0.06],
    [1.12, 1.02, 0.92, 0.82, 0.72, 0.62],
    [1.08, 0.98, 0.88, 0.78, 0.68, 0.04],
    [5.98, 5.84, 5.7, 4.72, 4.3, 4.14, 3.98, 3.82, 3.6, 3.4, 3.2, 3.02, 2.84, 2.66, 2.5, 2.0, 0.04],
    [6.02, 5.9, 5.78, 5.66, 4.86, 4.62, 4.4, 4.22, 4.06, 3.9, 3.72, 3.48, 3.28, 3.1, 2.94, 2.76, 2.62, 2.44],
    [5.6, 5.48, 5.34, 4.56, 4.3, 4.14, 3.98, 3.82, 3.66, 3.5, 3.34, 3.18, 3.02, 2.84, 2.66, 2.5],
    [5.84, 5.7, 5.56, 5.42, 5.32, 4.84, 4.38, 4.2, 4.04, 3.84, 3.56, 3.4, 3.2, 3.04, 2.86, 2.7, 2.54],
    [5.3, 4.3, 4.14, 3.98, 3.8, 3.6, 3.42, 3.24, 3.06, 2.9, 2.74, 2.3, 1.6, 1.3, 0.66],
    [4.36, 4.2, 4.04, 3.86, 3.5, 3.26, 3.1, 2.92, 2.76, 2.6],
    [4.42, 4.24, 4.08, 3.9, 3.52, 3.3, 3.14, 2.96, 2.8, 2.64, 1.1, 0.58],
    [4.5, 4.32, 4.14, 3.98, 3.62, 3.4, 3.2, 3.04, 2.86, 2.7, 2.52, 2.42],
    [6.02, 5.8, 5.64, 5.52, 5.4, 5.14, 4.6, 4.44, 4.26, 4.1, 3.94, 3.56, 3.3, 3.12, 2.96, 2.8, 2.64, 2.48],
    [5.76, 5.6, 5.46, 5.36, 4.52, 4.34, 4.18, 4.02, 3.84, 3.6, 3.34, 3.2, 3.02, 2.86, 2.68, 2.5, 2.4, 1.14, 0.9, 0.72],
    [5.6, 5.48, 5.38, 4.46, 4.3, 4.12, 3.96, 3.72, 3.44, 3.24, 3.08, 2.9, 2.72, 2.56, 2.38, 1.16, 1.06, 0.82, 0.62, 0.46],
    [5.52, 4.34, 4.16, 4.0, 3.62, 3.38, 3.2, 3.02, 2.84, 2.66, 0.42, 0.3],
]
bb_low_x = [119.4, 119.45, 119.5, 119.55]
bb_low_y = [
    [0.48, 0.4, 0.32, 0.24],
    [0.5, 0.42, 0.34, 0.26, 0.2],
    [0.46, 0.38, 0.3, 0.22],
    [0.4, 0.32, 0.24, 0.2],
]
cc_x = [119.58, 119.63, 119.68, 119.73, 119.78, 119.83, 119.88, 119.93, 119.98, 120.03]
cc_y = [
    [4.14, 4.0, 3.84, 3.7, 3.4, 3.2, 3.02, 2.84, 2.68, 2.5, 2.38],
    [4.36, 4.2, 4.04, 3.88, 3.6, 3.36, 3.16, 3.0, 2.82, 2.64, 2.46],
    [4.3, 4.14, 3.98, 3.82, 3.5, 3.3, 3.12, 2.96, 2.78, 2.6, 2.42, 2.3],
    [4.98, 4.36, 4.2, 4.04, 3.88, 3.7, 3.46, 3.2, 3.04, 2.86, 2.7, 2.52, 2.36],
    [5.06, 4.3, 4.14, 3.98, 3.82, 3.6, 3.4, 3.24, 3.08, 2.92, 2.76, 2.58, 2.3],
    [4.78, 4.36, 4.2, 4.04, 3.88, 3.7, 3.48, 3.3, 3.14, 2.98, 2.82, 2.64, 2.46],
    [5.18, 4.6, 4.42, 4.26, 4.1, 3.94, 3.7, 3.5, 3.3, 3.1, 2.94, 2.78, 2.56, 2.3],
    [4.5, 4.34, 4.18, 4.02, 3.86, 3.6, 3.34, 3.16, 3.0, 2.82, 2.64],
    [4.52, 4.38, 4.22, 4.06, 3.9, 3.64, 3.4, 3.2, 3.02, 2.84, 2.66, 2.48, 2.32],
    [4.5, 4.32, 4.16, 4.0, 3.84, 3.46, 3.14, 2.9, 2.62, 2.4, 0.3, 0.16],
]
dd_x = [120.38, 120.43, 120.48, 120.53, 120.58, 120.63, 120.68, 120.73, 120.78, 120.83, 120.87]
dd_y = [
    [3.34, 3.16, 3.0, 2.84, 2.68, 2.5, 2.34, 2.18, 1.22, 0.85, 0.68, 0.6],
    [3.76, 3.48, 3.32, 3.16, 3.0, 2.84, 2.68, 2.5, 2.34, 2.16, 2.04],
    [3.84, 3.54, 3.38, 3.22, 3.06, 2.9, 2.74, 2.58, 2.42, 2.26, 2.1],
    [3.44, 3.28, 3.12, 2.96, 2.8, 2.64, 2.48, 2.32, 2.16, 2.0],
    [3.54, 3.36, 3.2, 3.04, 2.88, 2.72, 2.56, 2.4, 2.24, 2.08, 1.96],
    [3.88, 3.7, 3.46, 3.3, 3.14, 2.98, 2.82, 2.66, 2.5, 2.34, 2.18, 2.02],
    [3.42, 3.24, 3.08, 2.92, 2.76, 2.6, 2.44, 2.28, 2.14, 2.0],
    [3.9, 3.72, 3.44, 3.26, 3.1, 2.94, 2.78, 2.62, 2.46, 2.3, 2.12, 1.9],
    [3.9, 3.66, 3.38, 3.22, 3.06, 2.9, 2.74, 2.58, 2.42, 2.26, 2.1, 1.96, 1.78],
    [3.4, 3.24, 3.08, 2.92, 2.76, 2.6, 2.44, 2.28, 2.12, 1.98],
    [3.34, 3.14, 2.9, 2.7, 2.46, 2.24, 2.04],
]
ee_x = [121.34, 121.38, 121.42, 121.46, 121.5, 121.54, 121.58]
ee_y = [
    [5.15, 4.85, 4.1, 3.94, 3.7, 3.44, 3.2, 2.9, 2.56, 2.36, 2.16, 0.78, 0.7, 0.62, 0.4],
    [4.2, 4.04, 3.88, 3.6, 3.36, 3.14, 2.94, 2.7, 2.48, 2.28, 2.14],
    [4.7, 4.36, 4.2, 4.04, 3.88, 3.72, 3.54, 3.38, 3.22, 3.04, 2.9, 2.74, 2.56, 2.36, 2.18],
    [4.64, 4.44, 4.28, 4.12, 3.96, 3.8, 3.62, 3.46, 3.3, 3.12, 2.96, 2.78, 2.62, 2.44, 2.28, 2.14],
    [4.52, 4.36, 4.2, 4.04, 3.88, 3.7, 3.54, 3.38, 3.2, 3.02, 2.84, 2.68, 2.5, 2.34],
    [4.46, 4.3, 4.14, 3.98, 3.8, 3.62, 3.46, 3.28, 3.1, 2.92, 2.76, 2.58, 2.42],
    [4.56, 4.4, 4.22, 4.06, 3.76, 3.5, 3.2, 2.9, 2.62],
]

x_cols = [a_x, b_x, c_x, d_x, e_x, e_low_x, f_x, f_low_x, g_x, h_low_x, i_x, i_low_x, j_x, k_x, m_x, n_x,
          o_x, o_low_x, p_x, q_x, r_x, s_x, u_x, v_x, w_x, x_x, y_x, z_x, aa_x, bb_x, bb_low_x, cc_x, dd_x, ee_x]
y_cols = [a_y, b_y, c_y, d_y, e_y, e_low_y, f_y, f_low_y, g_y, h_low_y, i_y, i_low_y, j_y, k_y, m_y, n_y,
          o_y, o_low_y, p_y, q_y, r_y, s_y, u_y, v_y, w_y, x_y, y_y, z_y, aa_y, bb_y, bb_low_y, cc_y, dd_y, ee_y]

times = []
rates = []
for xs, ys in zip(x_cols, y_cols):
    for x, col in zip(xs, ys):
        for y in col:
            times.append(x)
            rates.append(y)

if __name__ == '__main__':
    plt.figure(figsize=(10, 2.08), dpi=200)
    plt.plot(times, rates, 'b.', markersize=1.5, label='Total SIB Slope: -0.0053')
    plt.plot(line_x, line_y, 'r-', linewidth=1)
    plt.xlim(90.52, 123.5)
    plt.ylim(0, 7.67)
    plt.ylabel('cnts/s', fontsize=8)
    plt.legend(loc='upper left', fontsize=9)
    plt.savefig('out.png')
